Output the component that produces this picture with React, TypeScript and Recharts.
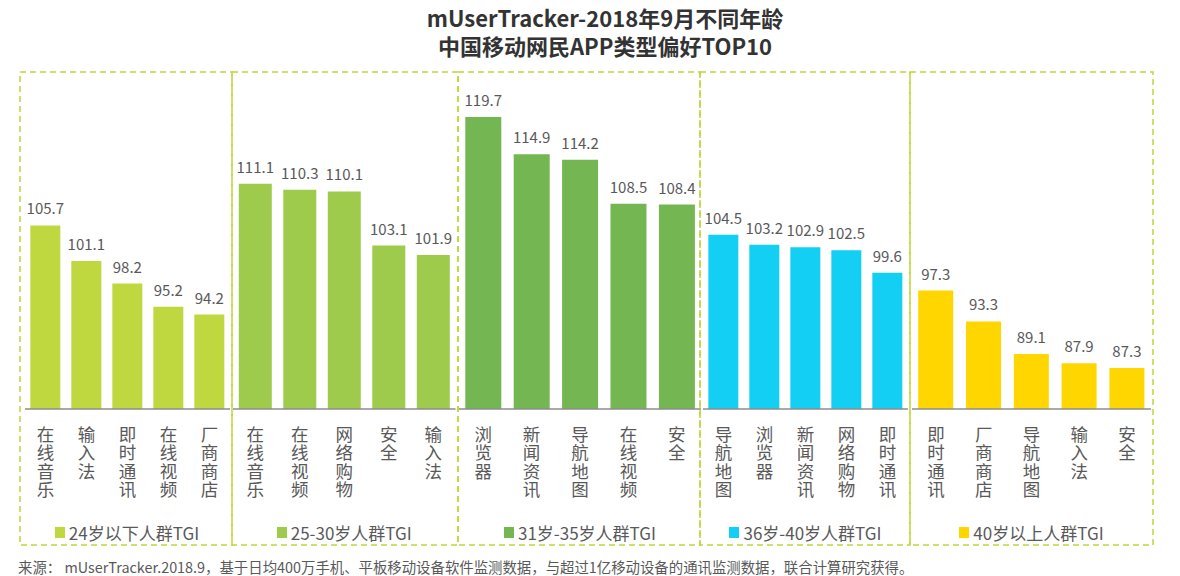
import { BarChart, Bar, XAxis, YAxis, Legend, LabelList } from "recharts";

const groupNames = ["24岁以下人群TGI", "25-30岁人群TGI", "31岁-35岁人群TGI", "36岁-40岁人群TGI", "40岁以上人群TGI"];

const catsUnder24 = ["在线音乐", "输入法", "即时通讯", "在线视频", "厂商商店"];
const valsUnder24 = [105.7, 101.1, 98.2, 95.2, 94.2];

const cats25to30 = ["在线音乐", "在线视频", "网络购物", "安全", "输入法"];
const vals25to30 = [111.1, 110.3, 110.1, 103.1, 101.9];

const cats31to35 = ["浏览器", "新闻资讯", "导航地图", "在线视频", "安全"];
const vals31to35 = [119.7, 114.9, 114.2, 108.5, 108.4];

const cats36to40 = ["导航地图", "浏览器", "新闻资讯", "网络购物", "即时通讯"];
const vals36to40 = [104.5, 103.2, 102.9, 102.5, 99.6];

const cats40plus = ["即时通讯", "厂商商店", "导航地图", "输入法", "安全"];
const vals40plus = [97.3, 93.3, 89.1, 87.9, 87.3];

const groupCats = [catsUnder24, cats25to30, cats31to35, cats36to40, cats40plus];
const groupVals = [valsUnder24, vals25to30, vals31to35, vals36to40, vals40plus];
const groupColors = ["#c0d83f", "#9ecb4b", "#74b752", "#14cff4", "#ffd600"];

// page layout (px)
const panelEdges = [20, 232, 458, 700, 910, 1153];
const axisLeft = [24.5, 233, 459, 703, 912];
const axisWidth = [205, 222.5, 242, 205, 239];
const PANEL_TOP = 72;
const PANEL_BOTTOM = 545;
const FONT = '"Noto Sans CJK SC", "Noto Sans", sans-serif';

// category names stacked one character per line
function VerticalTick(props: any) {
  const { x, y, payload } = props;
  const chars = String(payload.value).split("");
  return (
    <g>
      {chars.map((c, i) => (
        <text key={i} x={x} y={y + 30 + i * 18.3} textAnchor="middle" fill="#595959" fontSize={17.5} fontFamily={FONT}>
          {c}
        </text>
      ))}
    </g>
  );
}

function Panel({ idx }: { idx: number }) {
  const data = groupCats[idx].map((name, i) => ({ name, value: groupVals[idx][i] }));
  const color = groupColors[idx];
  return (
    <div style={{ position: "absolute", left: axisLeft[idx], top: PANEL_TOP }}>
      <BarChart
        width={axisWidth[idx]}
        height={PANEL_BOTTOM - PANEL_TOP}
        data={data}
        margin={{ top: 4, right: 0, left: 0, bottom: 0 }}
        barCategoryGap="13%"
      >
        <XAxis
          dataKey="name"
          interval={0}
          height={100}
          tickLine={false}
          tickSize={0}
          axisLine={{ stroke: "#8c8c8c", strokeWidth: 1.5 }}
          tick={<VerticalTick />}
        />
        <YAxis hide domain={[82, 125]} allowDataOverflow />
        <Legend
          verticalAlign="bottom"
          height={36}
          content={() => (
            <div
              style={{
                height: 36,
                boxSizing: "border-box",
                paddingTop: 10,
                display: "flex",
                justifyContent: "center",
                alignItems: "center",
                fontFamily: FONT,
                fontSize: 17,
                color: "#595959",
              }}
            >
              <span style={{ display: "inline-block", width: 10, height: 11, background: color, marginRight: 4 }} />
              <span>{groupNames[idx]}</span>
            </div>
          )}
        />
        <Bar dataKey="value" name={groupNames[idx]} fill={color} isAnimationActive={false}>
          <LabelList dataKey="value" position="top" offset={11} fill="#595959" fontSize={15} fontFamily={FONT} />
        </Bar>
      </BarChart>
    </div>
  );
}

export default function App() {
  return (
    <div style={{ position: "absolute", left: 0, top: 0, width: 1180, height: 576, background: "#fff", fontFamily: FONT }}>
      <div
        style={{
          position: "absolute",
          left: 15,
          top: 3,
          width: 1180,
          textAlign: "center",
          fontSize: 22,
          fontWeight: 700,
          lineHeight: "28px",
          color: "#333",
        }}
      >
        <div>mUserTracker-2018年9月不同年龄</div>
        <div>中国移动网民APP类型偏好TOP10</div>
      </div>

      {groupNames.map((_, i) => (
        <Panel key={i} idx={i} />
      ))}

      <svg width={1180} height={576} style={{ position: "absolute", left: 0, top: 0, pointerEvents: "none" }}>
        {groupNames.map((_, i) => (
          <rect
            key={i}
            x={panelEdges[i]}
            y={PANEL_TOP}
            width={panelEdges[i + 1] - panelEdges[i]}
            height={PANEL_BOTTOM - PANEL_TOP}
            fill="none"
            stroke="#bdd63a"
            strokeWidth={1.5}
            strokeDasharray="6 4"
          />
        ))}
      </svg>

      <div style={{ position: "absolute", left: 18, top: 556, fontSize: 14.4, color: "#595959", whiteSpace: "nowrap" }}>
        来源： mUserTracker.2018.9，基于日均400万手机、平板移动设备软件监测数据，与超过1亿移动设备的通讯监测数据，联合计算研究获得。
      </div>
    </div>
  );
}
